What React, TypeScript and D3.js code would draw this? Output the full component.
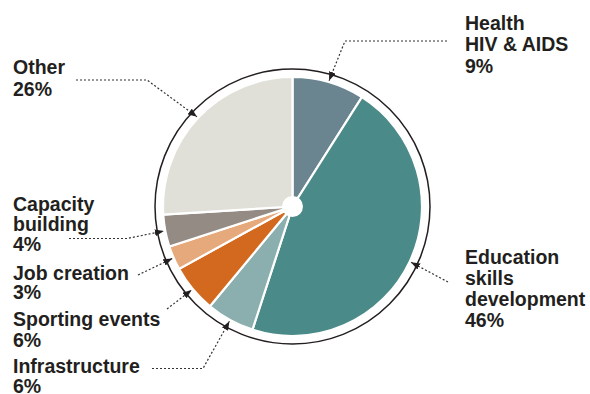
import React from "react";
import * as d3 from "d3";

const categories = ["Health", "Education", "Infrastructure", "Sporting events", "Job creation", "Capacity building", "Other"];
const values = [9, 46, 6, 6, 3, 4, 26];
const labelLines = [
  ["Health", "HIV & AIDS", "9%"],
  ["Education", "skills", "development", "46%"],
  ["Infrastructure", "6%"],
  ["Sporting events", "6%"],
  ["Job creation", "3%"],
  ["Capacity", "building", "4%"],
  ["Other", "26%"],
];
const colors = ["#6b8590", "#4a8a88", "#8aafae", "#d2691f", "#e6a97c", "#938b84", "#e0e0d8"];

// layout: label anchor and leader-line points (label side first)
const layout = [
  { x: 465, y: 29.5, lh: 21.5, leader: [[447, 41], [345, 41]] },
  { x: 465, y: 263.5, lh: 21.3, leader: [[448, 282]] },
  { x: 13, y: 372.5, lh: 20.5, leader: [[152, 368.5], [203, 368.5]] },
  { x: 13, y: 326, lh: 20.5, leader: [[167, 309]] },
  { x: 13, y: 279.5, lh: 19.5, leader: [[138, 275]] },
  { x: 13, y: 211, lh: 20, leader: [[69, 238.5], [127, 238.5]] },
  { x: 13, y: 74, lh: 22, leader: [[76, 80], [147, 80]] },
];

const W = 590, H = 394;
const cx = 292.5, cy = 206.5;
const R = 129.5, ringR = 137.5, tipR = 131, holeR = 10.5;

export default function App() {
  const pie = d3.pie<number>().sort(null).value((d) => d)(values);
  const arc = d3.arc<d3.PieArcDatum<number>>().innerRadius(0).outerRadius(R);
  const line = d3.line();
  return (
    <svg width={W} height={H} style={{ position: "absolute", left: 0, top: 0, background: "#fff" }}
      fontFamily="'Liberation Sans', Arial, Helvetica, sans-serif">
      <defs>
        <marker id="arr" viewBox="0 0 9 7" refX={9} refY={3.5} markerWidth={9} markerHeight={7}
          markerUnits="userSpaceOnUse" orient="auto">
          <path d="M0,0 L9,3.5 L0,7 Z" fill="#231f20" />
        </marker>
      </defs>
      <g transform={`translate(${cx},${cy})`}>
        {pie.map((p, i) => (
          <path key={categories[i]} d={arc(p) || ""} fill={colors[i]} stroke="#fff" strokeWidth={2.2} />
        ))}
        <circle r={holeR} fill="#fff" />
        <circle r={ringR} fill="none" stroke="#231f20" strokeWidth={1.5} />
      </g>
      {pie.map((p, i) => {
        const a = (p.startAngle + p.endAngle) / 2;
        const tip: [number, number] = [cx + tipR * Math.sin(a), cy - tipR * Math.cos(a)];
        const pts = [...(layout[i].leader as [number, number][]), tip];
        return (
          <path key={"l" + i} d={line(pts) || ""} fill="none" stroke="#333" strokeWidth={1.2}
            strokeDasharray="2,2" markerEnd="url(#arr)" />
        );
      })}
      {labelLines.map((lines, i) => (
        <text key={"t" + i} x={layout[i].x} y={layout[i].y} fontSize={19.5} fontWeight="bold" fill="#231f20">
          {lines.map((s, j) => (
            <tspan key={j} x={layout[i].x} y={layout[i].y + j * layout[i].lh}>{s}</tspan>
          ))}
        </text>
      ))}
    </svg>
  );
}
